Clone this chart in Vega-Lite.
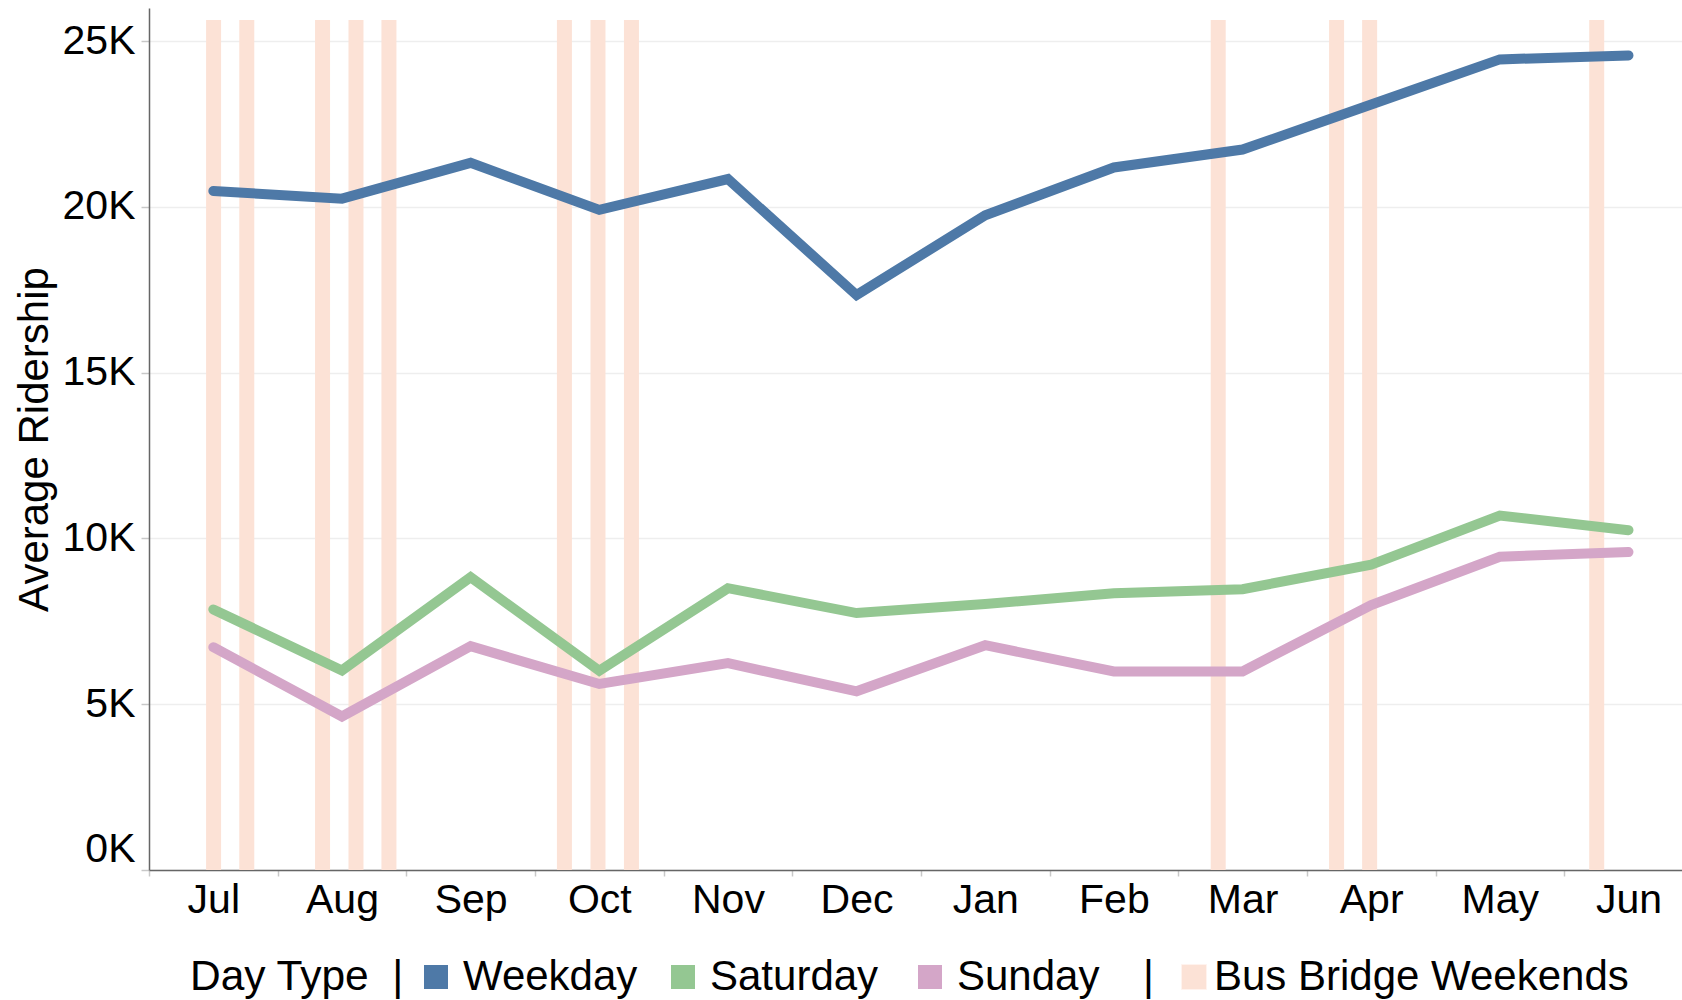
{
  "$schema": "https://vega.github.io/schema/vega-lite/v6.json",
  "autosize": "none",
  "width": 1533,
  "height": 862,
  "padding": {"left": 149, "top": 8, "right": 0, "bottom": 130},
  "background": "white",
  "config": {"font": "Liberation Sans", "view": {"stroke": null}},
  "datasets": {
    "ridership": [
      {"t": 0.5, "month": "Jul", "type": "Weekday", "riders": 20480},
      {"t": 1.5, "month": "Aug", "type": "Weekday", "riders": 20250},
      {"t": 2.5, "month": "Sep", "type": "Weekday", "riders": 21330},
      {"t": 3.5, "month": "Oct", "type": "Weekday", "riders": 19910},
      {"t": 4.5, "month": "Nov", "type": "Weekday", "riders": 20840},
      {"t": 5.5, "month": "Dec", "type": "Weekday", "riders": 17340},
      {"t": 6.5, "month": "Jan", "type": "Weekday", "riders": 19750},
      {"t": 7.5, "month": "Feb", "type": "Weekday", "riders": 21190},
      {"t": 8.5, "month": "Mar", "type": "Weekday", "riders": 21730},
      {"t": 9.5, "month": "Apr", "type": "Weekday", "riders": 23090},
      {"t": 10.5, "month": "May", "type": "Weekday", "riders": 24450},
      {"t": 11.5, "month": "Jun", "type": "Weekday", "riders": 24570},
      {"t": 0.5, "month": "Jul", "type": "Saturday", "riders": 7860},
      {"t": 1.5, "month": "Aug", "type": "Saturday", "riders": 6020},
      {"t": 2.5, "month": "Sep", "type": "Saturday", "riders": 8830},
      {"t": 3.5, "month": "Oct", "type": "Saturday", "riders": 6010},
      {"t": 4.5, "month": "Nov", "type": "Saturday", "riders": 8500},
      {"t": 5.5, "month": "Dec", "type": "Saturday", "riders": 7750},
      {"t": 6.5, "month": "Jan", "type": "Saturday", "riders": 8020},
      {"t": 7.5, "month": "Feb", "type": "Saturday", "riders": 8350},
      {"t": 8.5, "month": "Mar", "type": "Saturday", "riders": 8470},
      {"t": 9.5, "month": "Apr", "type": "Saturday", "riders": 9210},
      {"t": 10.5, "month": "May", "type": "Saturday", "riders": 10690},
      {"t": 11.5, "month": "Jun", "type": "Saturday", "riders": 10250},
      {"t": 0.5, "month": "Jul", "type": "Sunday", "riders": 6720},
      {"t": 1.5, "month": "Aug", "type": "Sunday", "riders": 4630},
      {"t": 2.5, "month": "Sep", "type": "Sunday", "riders": 6750},
      {"t": 3.5, "month": "Oct", "type": "Sunday", "riders": 5610},
      {"t": 4.5, "month": "Nov", "type": "Sunday", "riders": 6240},
      {"t": 5.5, "month": "Dec", "type": "Sunday", "riders": 5390},
      {"t": 6.5, "month": "Jan", "type": "Sunday", "riders": 6780},
      {"t": 7.5, "month": "Feb", "type": "Sunday", "riders": 5990},
      {"t": 8.5, "month": "Mar", "type": "Sunday", "riders": 5990},
      {"t": 9.5, "month": "Apr", "type": "Sunday", "riders": 7990},
      {"t": 10.5, "month": "May", "type": "Sunday", "riders": 9450},
      {"t": 11.5, "month": "Jun", "type": "Sunday", "riders": 9590}
    ],
    "busbridge": [
      {"t": 0.502, "label": "Bus Bridge Weekends"},
      {"t": 0.760, "label": "Bus Bridge Weekends"},
      {"t": 1.349, "label": "Bus Bridge Weekends"},
      {"t": 1.609, "label": "Bus Bridge Weekends"},
      {"t": 1.865, "label": "Bus Bridge Weekends"},
      {"t": 3.229, "label": "Bus Bridge Weekends"},
      {"t": 3.490, "label": "Bus Bridge Weekends"},
      {"t": 3.750, "label": "Bus Bridge Weekends"},
      {"t": 8.311, "label": "Bus Bridge Weekends"},
      {"t": 9.231, "label": "Bus Bridge Weekends"},
      {"t": 9.488, "label": "Bus Bridge Weekends"},
      {"t": 11.253, "label": "Bus Bridge Weekends"}
    ]
  },
  "layer": [
    {
      "data": {"name": "busbridge"},
      "mark": {"type": "bar", "width": 15},
      "encoding": {
        "x": {
          "field": "t", "type": "quantitative",
          "scale": {"domain": [0, 11.916], "nice": false, "zero": false, "padding": 0},
          "axis": {
            "title": null,
            "grid": false,
            "values": [0, 0.5, 1, 1.5, 2, 2.5, 3, 3.5, 4, 4.5, 5, 5.5, 6, 6.5, 7, 7.5, 8, 8.5, 9, 9.5, 10, 10.5, 11, 11.5],
            "labelExpr": "datum.value % 1 === 0.5 ? ['Jul','Aug','Sep','Oct','Nov','Dec','Jan','Feb','Mar','Apr','May','Jun'][floor(datum.value)] : ''",
            "tickSize": 6,
            "tickColor": "#c8c8c8",
            "tickWidth": 1.5,
            "tickOpacity": {"condition": {"test": "datum.value % 1 !== 0", "value": 0}, "value": 1},
            "labelFontSize": 41,
            "labelColor": "#000000",
            "labelPadding": 4,
            "labelFlush": false,
            "labelOverlap": false,
            "labelBound": false,
            "domainColor": "#666666",
            "domainWidth": 1.5
          }
        },
        "y": {
          "datum": 25640, "type": "quantitative",
          "scale": {"domain": [0, 26000], "nice": false},
          "title": "Average Ridership",
          "axis": {
            "values": [0, 5000, 10000, 15000, 20000, 25000],
            "labelExpr": "datum.value / 1000 + 'K'",
            "titleFontSize": 42,
            "titleFontWeight": "normal",
            "titleColor": "#000000",
            "titlePadding": 6,
            "labelFontSize": 41,
            "labelColor": "#000000",
            "labelPadding": 6,
            "labelFlush": true,
            "tickSize": 8,
            "tickColor": "#c8c8c8",
            "tickWidth": 1.5,
            "domainColor": "#666666",
            "domainWidth": 1.5,
            "grid": true,
            "gridColor": "#eeeeee",
            "gridWidth": 1.5
          }
        },
        "y2": {"datum": 0},
        "fill": {
          "field": "label", "type": "nominal",
          "scale": {"range": ["#fce2d6"]},
          "legend": {
            "orient": "none",
            "legendX": 994,
            "legendY": 948,
            "direction": "horizontal",
            "title": "|",
            "titleOrient": "left",
            "titleFontSize": 42,
            "titleFontWeight": "normal",
            "titleColor": "#000000",
            "titlePadding": 19,
            "labelFontSize": 42,
            "labelColor": "#000000",
            "labelOffset": -1,
            "labelLimit": 0,
            "symbolType": "square",
            "symbolSize": 625,
            "symbolStrokeColor": "#fff3ee",
            "symbolStrokeWidth": 1,
            "symbolOpacity": 1,
            "padding": 0
          }
        }
      }
    },
    {
      "data": {"name": "ridership"},
      "mark": {"type": "line", "strokeWidth": 10, "strokeCap": "round"},
      "encoding": {
        "x": {"field": "t", "type": "quantitative"},
        "y": {"field": "riders", "type": "quantitative", "title": "Average Ridership"},
        "color": {
          "field": "type", "type": "nominal",
          "scale": {"domain": ["Weekday", "Saturday", "Sunday"], "range": ["#4e79a7", "#94c792", "#d4a6c8"]},
          "legend": {
            "orient": "none",
            "legendX": 41,
            "legendY": 948,
            "direction": "horizontal",
            "columns": 3,
            "gridAlign": "all",
            "columnPadding": 24,
            "title": "Day Type\u00a0\u00a0|",
            "titleOrient": "left",
            "titleFontSize": 42.5,
            "titleFontWeight": "normal",
            "titleColor": "#000000",
            "titlePadding": 10,
            "titleLimit": 0,
            "labelFontSize": 42,
            "labelColor": "#000000",
            "labelOffset": 6,
            "labelLimit": 0,
            "symbolType": "square",
            "symbolSize": 576,
            "symbolStrokeWidth": 0,
            "symbolOpacity": 1,
            "padding": 0,
            "encode": {
              "symbols": {
                "update": {
                  "fill": {"scale": "color", "field": "value"},
                  "stroke": {"value": "transparent"},
                  "strokeWidth": {"value": 0}
                }
              }
            }
          }
        }
      }
    }
  ]
}
